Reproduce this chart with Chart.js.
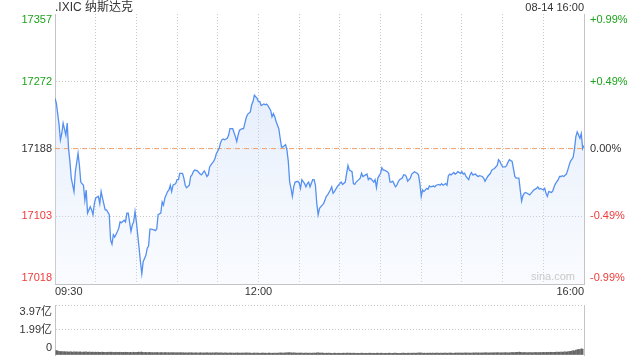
<!DOCTYPE html>
<html>
<head>
<meta charset="utf-8">
<script src="https://cdn.jsdelivr.net/npm/chart.js@4.4.1/dist/chart.umd.min.js"></script>
<style>
  html, body { margin: 0; padding: 0; background: #fff; width: 640px; height: 360px; overflow: hidden }
  #wrap { position: relative; width: 640px; height: 360px; color: #333;
          font-family: Arial, "Liberation Sans", "Noto Sans CJK SC", sans-serif }
  #title { position: absolute; left: 55px; top: 0; font-size: 12px; line-height: 15px }
  #stamp { position: absolute; right: 56px; top: 0; font-size: 11px; line-height: 15px }
  #main { position: absolute; left: 0; top: 0 }
  #vol  { position: absolute; left: 0; top: 300px }
</style>
</head>
<body>
<div id="wrap">
  <canvas id="main" width="640" height="300"></canvas>
  <canvas id="vol" width="640" height="60"></canvas>
  <div id="title">.IXIC 纳斯达克</div>
  <div id="stamp">08-14 16:00</div>
</div>
<script>
// =============================================
// data
// =============================================
const prevClose = 17188
const yTicks = [17018, 17103, 17188, 17272, 17357]
const pctLabels = ['-0.99%', '-0.49%', '0.00%', '+0.49%', '+0.99%']
const gridMinutes = [0, 30, 60, 90, 120, 150, 180, 210, 240, 270, 300, 330, 360, 390]
const xTickMinutes = [0, 150, 390]
const xTickLabels = ['09:30', '12:00', '16:00']

// minutes since 09:30
const minutes = [
  0, 1, 3, 4, 5, 6, 8, 9, 10, 11,
  12, 14, 15, 17, 18, 19, 21, 22, 23, 24,
  26, 27, 28, 29, 30, 32, 33, 34, 35, 37,
  38, 40, 41, 42, 43, 44, 46, 47, 48, 49,
  51, 52, 53, 54, 56, 57, 58, 59, 60, 62,
  63, 64, 65, 67, 68, 69, 70, 71, 73, 74,
  75, 76, 78, 79, 80, 81, 83, 84, 85, 86,
  87, 89, 90, 91, 92, 94, 95, 96, 97, 99,
  100, 101, 102, 103, 105, 106, 107, 108, 110, 111,
  112, 113, 114, 116, 117, 118, 119, 121, 122, 123,
  124, 125, 127, 128, 129, 131, 133, 134, 135, 136,
  138, 139, 140, 141, 142, 144, 145, 146, 147, 149,
  150, 151, 152, 154, 155, 156, 157, 159, 160, 161,
  162, 163, 165, 166, 167, 168, 170, 171, 172, 173,
  174, 175, 176, 177, 179, 180, 181, 182, 184, 185,
  186, 187, 188, 190, 191, 192, 193, 194, 195, 197,
  198, 199, 200, 201, 203, 204, 205, 206, 208, 209,
  210, 211, 212, 214, 215, 216, 217, 219, 220, 221,
  222, 224, 225, 226, 227, 229, 230, 231, 232, 233,
  235, 236, 237, 238, 240, 241, 242, 243, 245, 246,
  247, 248, 249, 251, 252, 253, 254, 256, 257, 258,
  259, 260, 262, 263, 265, 267, 268, 269, 270, 271,
  272, 274, 275, 276, 277, 279, 280, 281, 283, 284,
  285, 286, 288, 289, 290, 291, 292, 294, 295, 296,
  297, 299, 300, 301, 302, 303, 305, 306, 307, 308,
  310, 311, 312, 313, 315, 316, 317, 318, 319, 321,
  322, 323, 324, 326, 327, 328, 329, 330, 332, 333,
  334, 335, 337, 338, 339, 340, 342, 343, 344, 345,
  346, 347, 348, 350, 351, 352, 353, 355, 356, 357,
  358, 360, 361, 362, 363, 364, 366, 367, 368, 369,
  371, 372, 373, 374, 375, 377, 378, 379, 380, 382,
  383, 384, 385, 386, 387, 388, 389, 390
]
const prices = [
  17251, 17245, 17218, 17199, 17207, 17220, 17205, 17220, 17188, 17172,
  17151, 17134, 17159, 17182, 17167, 17146, 17142, 17123, 17136, 17107,
  17115, 17111, 17105, 17119, 17126, 17128, 17119, 17134, 17126, 17111,
  17111, 17105, 17073, 17068, 17080, 17077, 17084, 17088, 17096, 17095,
  17098, 17096, 17107, 17107, 17084, 17092, 17096, 17109, 17096, 17063,
  17046, 17031, 17046, 17054, 17063, 17066, 17087, 17087, 17086, 17085,
  17087, 17105, 17107, 17121, 17117, 17126, 17134, 17136, 17142, 17134,
  17142, 17144, 17149, 17149, 17157, 17157, 17151, 17142, 17139, 17142,
  17153, 17155, 17159, 17161, 17160, 17158, 17156, 17155, 17160, 17157,
  17153, 17155, 17165, 17170, 17172, 17176, 17182, 17188, 17195, 17199,
  17200, 17199, 17201, 17205, 17213, 17213, 17203, 17197, 17205, 17211,
  17213, 17213, 17220, 17227, 17231, 17234, 17243, 17247, 17255, 17251,
  17247, 17247, 17242, 17244, 17243, 17244, 17242, 17236, 17228, 17232,
  17228, 17222, 17213, 17201, 17190, 17190, 17193, 17186, 17172, 17146,
  17138, 17128, 17140, 17146, 17147, 17145, 17138, 17149, 17144, 17140,
  17144, 17146, 17140, 17149, 17149, 17142, 17119, 17105, 17113, 17117,
  17119, 17123, 17128, 17130, 17136, 17140, 17132, 17134, 17140, 17142,
  17144, 17146, 17143, 17146, 17157, 17167, 17161, 17159, 17144, 17143,
  17146, 17149, 17151, 17157, 17153, 17155, 17156, 17149, 17151, 17150,
  17146, 17149, 17139, 17151, 17157, 17164, 17161, 17161, 17159, 17157,
  17146, 17146, 17147, 17140, 17142, 17146, 17149, 17151, 17155, 17155,
  17153, 17147, 17151, 17156, 17159, 17157, 17155, 17144, 17128, 17136,
  17134, 17138, 17137, 17141, 17140, 17141, 17140, 17142, 17143, 17142,
  17144, 17142, 17144, 17142, 17154, 17156, 17155, 17158, 17156, 17157,
  17159, 17157, 17159, 17156, 17157, 17153, 17149, 17155, 17158, 17155,
  17156, 17154, 17153, 17154, 17153, 17151, 17147, 17150, 17153, 17157,
  17161, 17162, 17163, 17167, 17174, 17172, 17168, 17165, 17165, 17167,
  17171, 17174, 17172, 17163, 17153, 17151, 17151, 17136, 17122, 17129,
  17132, 17133, 17132, 17130, 17132, 17134, 17136, 17138, 17140, 17137,
  17138, 17136, 17138, 17132, 17128, 17134, 17133, 17135, 17140, 17144,
  17149, 17153, 17153, 17154, 17153, 17156, 17161, 17167, 17172, 17177,
  17188, 17203, 17209, 17205, 17201, 17207, 17188, 17192
]

// volume per minute, 亿
const volumes = [
  0.36, 0.32, 0.29, 0.27, 0.28, 0.26, 0.27, 0.25, 0.26, 0.24, 0.26, 0.25, 0.23, 0.25, 0.24, 0.25, 0.23, 0.24, 0.25, 0.22, 0.24, 0.23, 0.25, 0.22, 0.23, 0.24, 0.22, 0.23, 0.21, 0.23,
  0.22, 0.23, 0.21, 0.22, 0.23, 0.21, 0.22, 0.20, 0.22, 0.21, 0.23, 0.22, 0.21, 0.20, 0.22, 0.21, 0.20, 0.22, 0.21, 0.20, 0.21, 0.22, 0.20, 0.21, 0.19, 0.21, 0.20, 0.22, 0.20, 0.21,
  0.21, 0.23, 0.22, 0.24, 0.21, 0.20, 0.21, 0.19, 0.20, 0.21, 0.19, 0.20, 0.18, 0.20, 0.19, 0.20, 0.18, 0.19, 0.20, 0.18, 0.19, 0.20, 0.18, 0.19, 0.17, 0.19, 0.18, 0.19, 0.17, 0.18,
  0.18, 0.17, 0.19, 0.17, 0.18, 0.17, 0.18, 0.16, 0.18, 0.17, 0.18, 0.17, 0.16, 0.18, 0.17, 0.16, 0.17, 0.18, 0.16, 0.17, 0.16, 0.17, 0.18, 0.16, 0.17, 0.16, 0.17, 0.16, 0.18, 0.17,
  0.17, 0.16, 0.17, 0.16, 0.15, 0.17, 0.16, 0.15, 0.16, 0.17, 0.15, 0.16, 0.15, 0.16, 0.17, 0.15, 0.16, 0.15, 0.16, 0.15, 0.16, 0.17, 0.15, 0.16, 0.15, 0.14, 0.16, 0.15, 0.16, 0.15,
  0.15, 0.14, 0.15, 0.16, 0.14, 0.15, 0.14, 0.15, 0.16, 0.14, 0.15, 0.14, 0.15, 0.14, 0.15, 0.16, 0.17, 0.16, 0.15, 0.16, 0.17, 0.18, 0.19, 0.18, 0.17, 0.16, 0.17, 0.16, 0.15, 0.16,
  0.15, 0.16, 0.15, 0.14, 0.15, 0.16, 0.15, 0.14, 0.15, 0.14, 0.15, 0.16, 0.15, 0.17, 0.18, 0.16, 0.15, 0.16, 0.15, 0.14, 0.15, 0.14, 0.15, 0.14, 0.13, 0.14, 0.15, 0.14, 0.13, 0.14,
  0.14, 0.13, 0.14, 0.15, 0.14, 0.15, 0.16, 0.14, 0.15, 0.14, 0.15, 0.14, 0.13, 0.14, 0.13, 0.14, 0.15, 0.14, 0.13, 0.14, 0.13, 0.14, 0.15, 0.14, 0.13, 0.14, 0.13, 0.14, 0.15, 0.14,
  0.14, 0.15, 0.14, 0.13, 0.14, 0.13, 0.14, 0.15, 0.14, 0.13, 0.14, 0.15, 0.14, 0.13, 0.14, 0.13, 0.14, 0.15, 0.14, 0.13, 0.14, 0.15, 0.14, 0.15, 0.14, 0.15, 0.14, 0.15, 0.16, 0.17,
  0.16, 0.15, 0.14, 0.15, 0.14, 0.15, 0.14, 0.15, 0.14, 0.15, 0.14, 0.15, 0.16, 0.15, 0.14, 0.15, 0.14, 0.15, 0.16, 0.15, 0.14, 0.15, 0.16, 0.15, 0.14, 0.15, 0.16, 0.15, 0.16, 0.15,
  0.16, 0.15, 0.16, 0.17, 0.16, 0.15, 0.16, 0.15, 0.16, 0.17, 0.16, 0.17, 0.16, 0.17, 0.16, 0.17, 0.16, 0.17, 0.18, 0.17, 0.16, 0.17, 0.18, 0.17, 0.18, 0.17, 0.18, 0.19, 0.18, 0.17,
  0.18, 0.17, 0.18, 0.19, 0.18, 0.17, 0.18, 0.19, 0.20, 0.19, 0.20, 0.21, 0.22, 0.23, 0.21, 0.20, 0.19, 0.20, 0.19, 0.18, 0.19, 0.20, 0.19, 0.18, 0.19, 0.20, 0.19, 0.20, 0.19, 0.20,
  0.20, 0.21, 0.20, 0.21, 0.20, 0.21, 0.22, 0.21, 0.22, 0.21, 0.22, 0.23, 0.22, 0.23, 0.24, 0.23, 0.24, 0.25, 0.24, 0.26, 0.27, 0.29, 0.31, 0.35, 0.33, 0.39, 0.41, 0.45, 0.43, 0.49, 0.47
]
const volTicks = [0, 1.99, 3.97]
const volTickLabels = ['0', '1.99亿', '3.97亿']

// =============================================
// styles
// =============================================
const FONT = '11px Arial, "Liberation Sans", "Noto Sans CJK SC", sans-serif'
const GRID = '#c8c8c8'
const FRAME = '#c4c4c4'
const UP = '#1ca31c'
const DOWN = '#f03a3a'
const FLAT = '#333'
const NONE = 'rgba(0,0,0,0)'

const tickColor = v => v > prevClose ? UP : v < prevClose ? DOWN : FLAT

// y labels are pulled inside the frame at the top and bottom
function sideLabels(ticks, leftTexts, rightTexts, colorOf, inset) {
  return {
    id: 'sideLabels',
    afterDraw(chart) {
      const { ctx, chartArea: a } = chart
      const y = chart.scales.y
      ctx.save()
      ctx.font = FONT
      ctx.textBaseline = 'middle'
      ticks.forEach((v, i) => {
        const py = Math.min(Math.max(y.getPixelForValue(v), a.top + inset), a.bottom - inset)
        ctx.fillStyle = colorOf(v)
        ctx.textAlign = 'right'
        ctx.fillText(leftTexts[i], a.left - 3, py)
        if (rightTexts) {
          ctx.textAlign = 'left'
          ctx.fillText(rightTexts[i], a.right + 6, py)
        }
      })
      ctx.restore()
    }
  }
}

const timeLabels = {
  id: 'timeLabels',
  afterDraw(chart) {
    const { ctx, chartArea: a } = chart
    const x = chart.scales.x
    ctx.save()
    ctx.font = FONT
    ctx.textBaseline = 'middle'
    ctx.fillStyle = '#333'
    xTickMinutes.forEach((m, i) => {
      ctx.textAlign = i === 0 ? 'left' : i === xTickMinutes.length - 1 ? 'right' : 'center'
      ctx.fillText(xTickLabels[i], x.getPixelForValue(m), a.bottom + 8)
    })
    // watermark
    ctx.fillStyle = '#c9c9c9'
    ctx.textAlign = 'right'
    ctx.fillText('sina.com', a.right - 9, a.bottom - 7)
    ctx.restore()
  }
}

const edgeGrid = (ticks) => c =>
  (c.tick && (c.tick.value === ticks[0] || c.tick.value === ticks[ticks.length - 1])) ? NONE : GRID

const rightFrame = {
  position: 'right',
  ticks: { display: false },
  grid: { display: false, drawTicks: false },
  border: { display: true, color: FRAME }
}

// =============================================
// price chart
// =============================================
new Chart(document.getElementById('main'), {
  type: 'line',
  data: {
    datasets: [
      {
        data: minutes.map((m, i) => ({ x: m, y: prices[i] })),
        borderColor: '#5590f0',
        borderWidth: 1.3,
        pointRadius: 0,
        tension: 0,
        fill: 'start',
        backgroundColor: ctx => {
          const a = ctx.chart.chartArea
          if (!a) return NONE
          const g = ctx.chart.ctx.createLinearGradient(0, a.top, 0, a.bottom)
          g.addColorStop(0, 'rgba(170,200,245,0.45)')
          g.addColorStop(1, 'rgba(225,235,252,0.2)')
          return g
        },
        order: 1
      },
      {
        data: [{ x: gridMinutes[0], y: prevClose }, { x: gridMinutes[gridMinutes.length - 1], y: prevClose }],
        borderColor: '#f2a06c',
        borderWidth: 1,
        borderDash: [5, 4],
        pointRadius: 0,
        fill: false,
        order: 2
      }
    ]
  },
  options: {
    responsive: false,
    animation: false,
    events: [],
    layout: { padding: { left: 55, right: 56, top: 14, bottom: 16 } },
    plugins: { legend: { display: false }, tooltip: { enabled: false }, filler: { drawTime: 'beforeDatasetsDraw' } },
    scales: {
      x: {
        type: 'linear',
        min: 0,
        max: 390,
        afterBuildTicks: s => { s.ticks = gridMinutes.map(v => ({ value: v })) },
        ticks: { display: false },
        grid: { color: edgeGrid(gridMinutes), drawTicks: false, lineWidth: 1 },
        border: { display: true, color: FRAME, dash: [1, 2] }
      },
      y: {
        min: yTicks[0],
        max: yTicks[yTicks.length - 1],
        afterBuildTicks: s => { s.ticks = yTicks.map(v => ({ value: v })) },
        ticks: { display: false },
        grid: { color: edgeGrid(yTicks), drawTicks: false, lineWidth: 1 },
        border: { display: true, color: FRAME, dash: [1, 2] }
      },
      y2: rightFrame
    }
  },
  plugins: [sideLabels(yTicks, yTicks.map(String), pctLabels, tickColor, 6), timeLabels]
})

// =============================================
// volume chart
// =============================================
new Chart(document.getElementById('vol'), {
  type: 'bar',
  data: {
    datasets: [{
      data: volumes.map((v, i) => ({ x: i, y: v })),
      backgroundColor: '#666',
      barThickness: 1
    }]
  },
  options: {
    responsive: false,
    animation: false,
    events: [],
    layout: { padding: { left: 55, right: 56, top: 5, bottom: 5 } },
    plugins: { legend: { display: false }, tooltip: { enabled: false } },
    scales: {
      x: {
        type: 'linear',
        offset: false,
        min: -1,
        max: 391,
        ticks: { display: false },
        grid: { display: false, drawTicks: false },
        border: { display: false }
      },
      y: {
        min: volTicks[0],
        max: volTicks[volTicks.length - 1],
        afterBuildTicks: s => { s.ticks = volTicks.map(v => ({ value: v })) },
        ticks: { display: false },
        grid: { color: c => (c.tick && c.tick.value === 0) ? NONE : GRID, drawTicks: false },
        border: { display: true, color: FRAME, dash: [1, 2] }
      },
      y2: rightFrame
    }
  },
  plugins: [sideLabels(volTicks, volTickLabels, null, () => '#333', 7)]
})
</script>
</body>
</html>
